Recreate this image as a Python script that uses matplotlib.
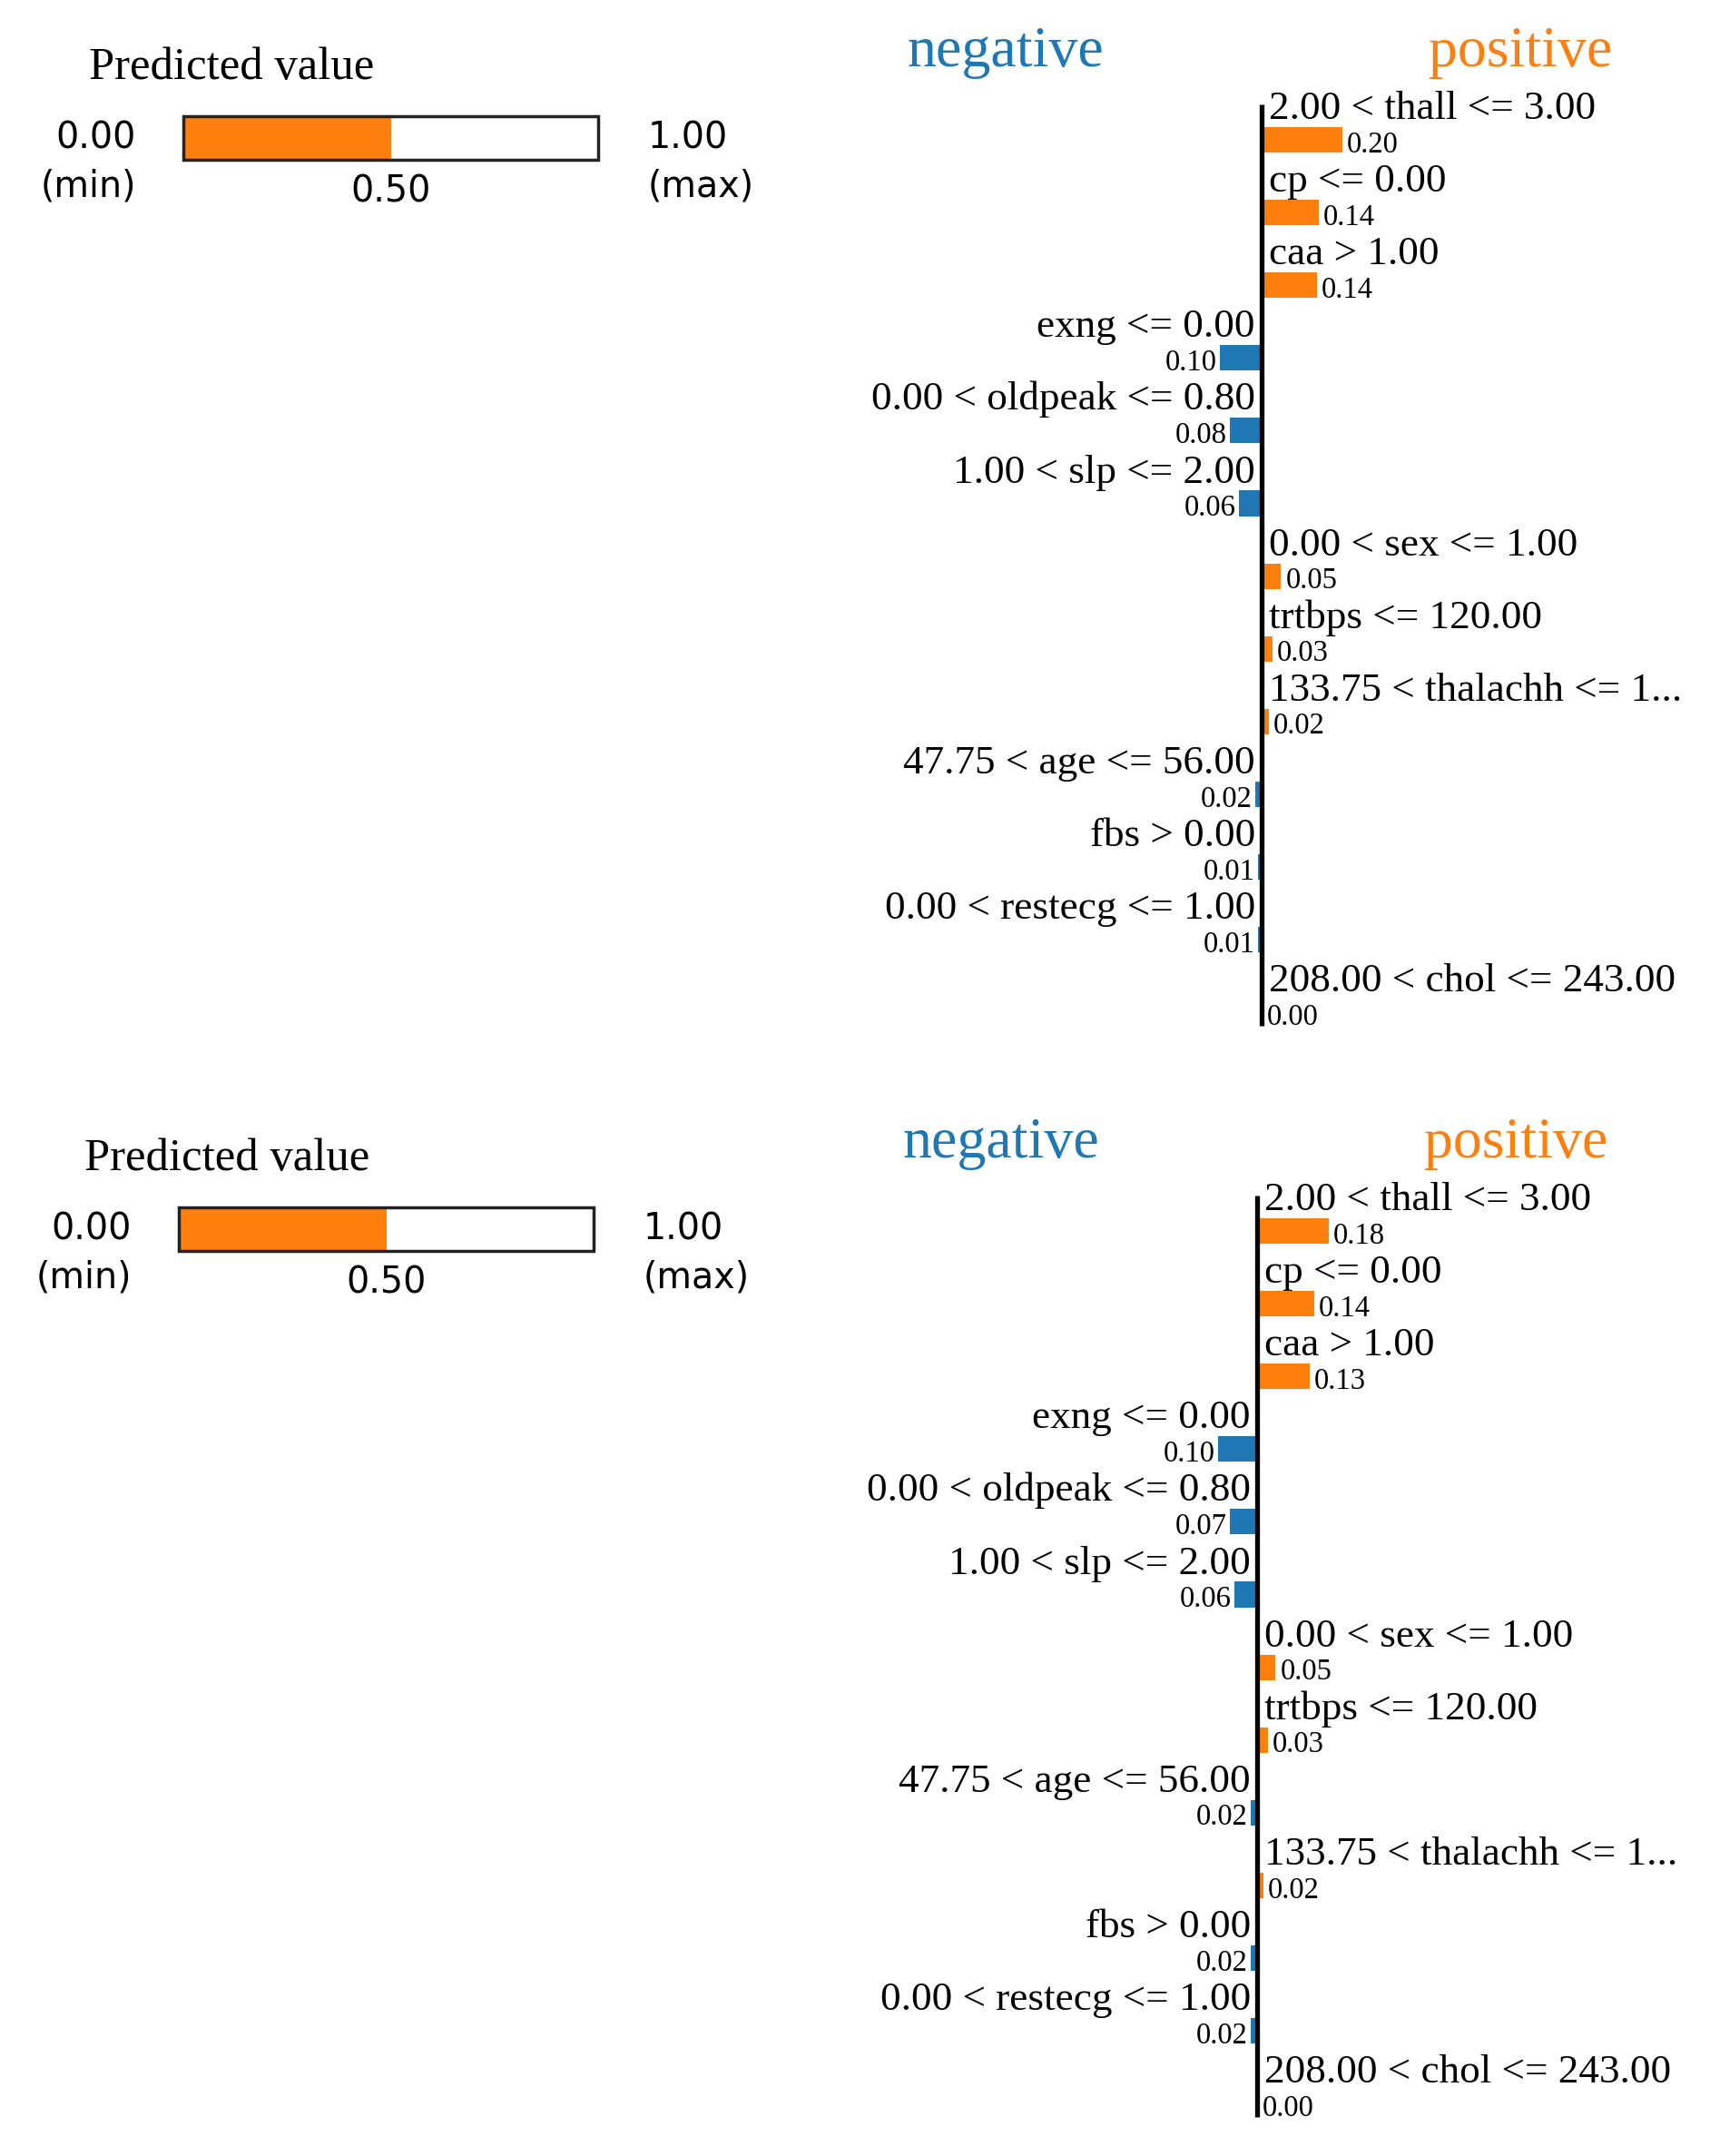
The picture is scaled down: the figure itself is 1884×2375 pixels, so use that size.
import matplotlib.pyplot as plt

# 特徴量の条件（上から順）と寄与度
features_1 = ["2.00 < thall <= 3.00", "cp <= 0.00", "caa > 1.00", "exng <= 0.00",
              "0.00 < oldpeak <= 0.80", "1.00 < slp <= 2.00", "0.00 < sex <= 1.00",
              "trtbps <= 120.00", "133.75 < thalachh <= 1...", "47.75 < age <= 56.00",
              "fbs > 0.00", "0.00 < restecg <= 1.00", "208.00 < chol <= 243.00"]
weights_1 = [0.200, 0.142, 0.137, -0.103, -0.078, -0.056, 0.048,
             0.026, 0.017, -0.016, -0.010, -0.009, 0.002]

features_2 = ["2.00 < thall <= 3.00", "cp <= 0.00", "caa > 1.00", "exng <= 0.00",
              "0.00 < oldpeak <= 0.80", "1.00 < slp <= 2.00", "0.00 < sex <= 1.00",
              "trtbps <= 120.00", "47.75 < age <= 56.00", "133.75 < thalachh <= 1...",
              "fbs > 0.00", "0.00 < restecg <= 1.00", "208.00 < chol <= 243.00"]
weights_2 = [0.178, 0.142, 0.131, -0.097, -0.068, -0.056, 0.046,
             0.026, -0.016, 0.016, -0.016, -0.016, 0.002]

# 予測値
pred_1 = 0.50
pred_2 = 0.50
pred_min, pred_max = 0.0, 1.0

ORANGE = "#ff7f0e"
BLUE = "#1f77b4"
W, H = 1884, 2375
SERIF = ["Liberation Serif", "DejaVu Serif"]
SANS = ["DejaVu Sans"]

fig = plt.figure(figsize=(W / 100, H / 100), dpi=100)


def rect(x0, y0, x1, y1):
    # ピクセル座標（左上原点）-> figure座標
    return [x0 / W, 1 - y1 / H, (x1 - x0) / W, (y1 - y0) / H]


def fpos(x, y):
    return x / W, 1 - y / H


def draw_panel(dx, dy, features, weights, pred):
    # 予測値バー
    axp = fig.add_axes(rect(202 + dx, 128 + dy, 659 + dx, 176 + dy))
    b1 = axp.barh(0, pred - pred_min, left=pred_min, height=1, color=ORANGE, linewidth=0)
    b2 = axp.barh(0, pred_max - pred_min, left=pred_min, height=1, fill=False,
                  edgecolor="#222222", linewidth=2.5)
    for p in list(b1) + list(b2):
        p.set_clip_on(False)
    axp.set_xlim(pred_min, pred_max)
    axp.set_ylim(-0.5, 0.5)
    axp.axis("off")
    axp.text(pred, -1.23, f"{pred:.2f}", ha="center", va="center", fontsize=28.5, family=SANS)

    fig.text(*fpos(98 + dx, 87 + dy), "Predicted value", fontsize=36.5, family=SERIF, va="baseline")
    fig.text(*fpos(150 + dx, 153 + dy), f"{pred_min:.2f}", ha="right", va="center", fontsize=28.5, family=SANS)
    fig.text(*fpos(150 + dx, 206 + dy), "(min)", ha="right", va="center", fontsize=28.5, family=SANS)
    fig.text(*fpos(714 + dx, 153 + dy), f"{pred_max:.2f}", ha="left", va="center", fontsize=28.5, family=SANS)
    fig.text(*fpos(714 + dx, 206 + dy), "(max)", ha="left", va="center", fontsize=28.5, family=SANS)

    # 寄与度の棒グラフ
    ax0, scale = 1390 + dx, 445.0
    row0, rowh = 154 + dy, 80.1
    ax = fig.add_axes(rect(880 + dx, dy, 1884, dy + 1175))
    ax.set_xlim((880 + dx - ax0) / scale, (1884 - ax0) / scale)
    ax.set_ylim((dy + 1175 - row0) / rowh, (dy - row0) / rowh)
    ax.axis("off")

    rows = list(range(len(features)))
    colors = [ORANGE if w >= 0 else BLUE for w in weights]
    ax.barh(rows, weights, height=0.35, color=colors, linewidth=0)
    ax.vlines(0, -0.49, len(features) - 0.81, colors="black", linewidth=3.8)

    for i, (f, w) in enumerate(zip(features, weights)):
        if w >= 0:
            ax.text(0.018, i - 0.287, f, ha="left", va="baseline", fontsize=32.5, family=SERIF)
            ax.text(w + 0.011, i + 0.17, f"{abs(w):.2f}", ha="left", va="baseline", fontsize=23.5, family=SERIF)
        else:
            ax.text(-0.016, i - 0.287, f, ha="right", va="baseline", fontsize=32.5, family=SERIF)
            ax.text(w - 0.007, i + 0.17, f"{abs(w):.2f}", ha="right", va="baseline", fontsize=23.5, family=SERIF)

    ax.text(-0.634, -1.011, "negative", color=BLUE, ha="center", va="baseline", fontsize=46, family=SERIF)
    ax.text(0.640, -1.011, "positive", color=ORANGE, ha="center", va="baseline", fontsize=46, family=SERIF)


draw_panel(0, 0, features_1, weights_1, pred_1)
draw_panel(-5, 1202, features_2, weights_2, pred_2)

fig.savefig("out.png", dpi=100, facecolor="white")
